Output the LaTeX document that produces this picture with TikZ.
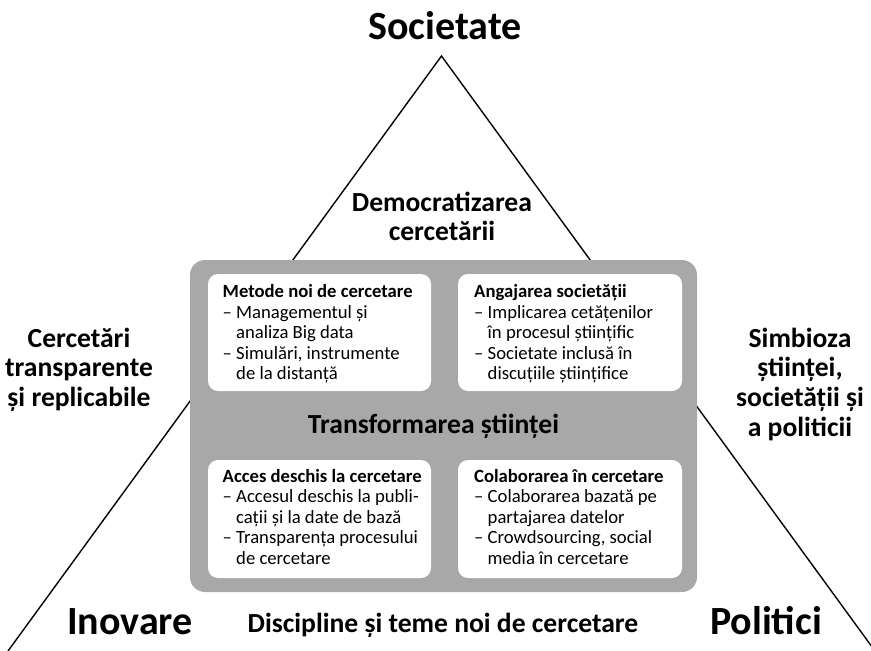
\documentclass[tikz,border=0pt]{standalone}
\usepackage{fontspec}
\setmainfont{Carlito}
\newcommand\panellines[8]{%
  \node[bt] (#1t) at (#2,#3) {#4};
  \node[bl] (#1a) at (#2,#3+20.5) {–~#5};
  \node[bl] (#1b) at (#2,#3+41) {\phantom{–~}#6};
  \node[bl] (#1c) at (#2,#3+61.5) {–~#7};
  \node[bl] (#1d) at (#2,#3+82) {\phantom{–~}#8};
}
\definecolor{panelgray}{RGB}{168,168,168}
\begin{document}
\begin{tikzpicture}[x=1pt,y=-1pt,
  lbl/.style={inner sep=0pt,anchor=base,font=\bfseries\fontsize{27.6}{29.3}\selectfont},
  big/.style={inner sep=0pt,anchor=base,font=\bfseries\fontsize{40}{44}\selectfont},
  bt/.style={inner sep=0pt,anchor=base west,font=\bfseries\fontsize{18.67}{20.5}\selectfont},
  bl/.style={inner sep=0pt,anchor=base west,font=\fontsize{18.67}{20.5}\selectfont},
  edge/.style={draw=black,line width=1.4pt},
  outer/.style={fill=panelgray,rounded corners=15pt},
  panel/.style={fill=white,rounded corners=10pt}]
\useasboundingbox (0,0) rectangle (871,651);
% triangle
\coordinate (apex) at (441.5,56);
\coordinate (bl) at (8,651);
\coordinate (br) at (875,651);
\draw[edge] (bl) -- (apex) -- (br);
% central box
\path[outer] (190,260) rectangle (697,592);
\path[panel] (208,274) rectangle (431,391);
\path[panel] (458,274) rectangle (682,391);
\path[panel] (208,460) rectangle (431,578);
\path[panel] (458,460) rectangle (682,578);
% corner labels
\node[big] (soc) at (445,39.5) {Societate};
\node[big] (ino) at (130,634) {Inovare};
\node[big] (pol) at (766,634) {Politici};
% side labels
\node[lbl] (dem1) at (442,211.7) {Democratizarea};
\node[lbl] (dem2) at (442,240.5) {cercetării};
\node[lbl] (cer1) at (79,347) {Cercetări};
\node[lbl] (cer2) at (79,376.5) {transparente};
\node[lbl] (cer3) at (79,406) {și replicabile};
\node[lbl] (sim1) at (800,347) {Simbioza};
\node[lbl] (sim2) at (800,376.7) {științei,};
\node[lbl] (sim3) at (800,406.4) {societății și};
\node[lbl] (sim4) at (800,436) {a politicii};
\node[lbl] (tra) at (433.5,433.3) {Transformarea științei};
\node[lbl] (dis) at (443,632) {Discipline și teme noi de cercetare};
% panel texts
\panellines{tl}{222.5}{297.5}{Metode noi de cercetare}{Managementul și}{analiza Big data}{Simulări, instrumente}{de la distanță}
\panellines{tr}{474}{297.5}{Angajarea societății}{Implicarea cetățenilor}{în procesul științific}{Societate inclusă în}{discuțiile științifice}
\panellines{bl}{222.5}{482.3}{Acces deschis la cercetare}{Accesul deschis la publi-}{cații și la date de bază}{Transparența procesului}{de cercetare}
\panellines{br}{474}{482.3}{Colaborarea în cercetare}{Colaborarea bazată pe}{partajarea datelor}{Crowdsourcing, social}{media în cercetare}
\end{tikzpicture}
\end{document}
